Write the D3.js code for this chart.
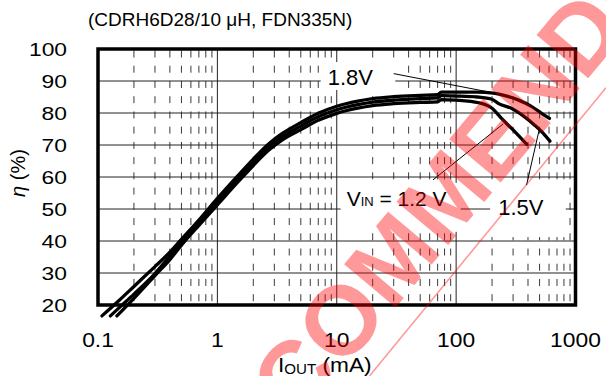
<!DOCTYPE html>
<html>
<head>
<meta charset="utf-8">
<script src="https://cdn.jsdelivr.net/npm/d3@7"></script>
<style>
  html, body { margin: 0; padding: 0; background: #fff; }
  svg { display: block; font-family: "Liberation Sans", Arial, Helvetica, sans-serif; }
</style>
</head>
<body>
<svg id="chart" width="606" height="376"></svg>
<script>
// Converter efficiency versus load current, one curve per input voltage.
const xTicks = [0.1, 1, 10, 100, 1000];
const xTickLabels = ["0.1", "1", "10", "100", "1000"];
const yTicks = [20, 30, 40, 50, 60, 70, 80, 90, 100];
const yTickLabels = ["20", "30", "40", "50", "60", "70", "80", "90", "100"];

// VIN = 1.8 V
const current18 = [0.108, 0.15, 0.2, 0.3, 0.4, 0.5, 0.7, 1, 1.5, 2, 2.7, 3.5, 5, 7, 10, 15, 20, 30, 50, 70, 75, 100, 150, 205, 275, 330, 430, 520, 605];
const eff18     = [16.6, 21.4, 25.8, 32.0, 36.5, 40.5, 46.5, 53.3, 60.6, 65.6, 70.4, 73.6, 77.0, 79.9, 82.1, 83.7, 84.5, 85.1, 85.5, 85.7, 86.5, 86.5, 86.5, 86.2, 85.1, 84.1, 82.0, 79.9, 78.3];

// VIN = 1.5 V
const current15 = [0.127, 0.15, 0.2, 0.3, 0.4, 0.5, 0.7, 1, 1.5, 2, 2.7, 3.5, 5, 7, 10, 15, 20, 30, 50, 70, 75, 100, 150, 200, 225, 290, 375, 455, 535, 610];
const eff15     = [16.6, 19.1, 23.4, 29.8, 35.3, 39.5, 45.7, 52.3, 59.6, 64.6, 69.4, 72.6, 75.9, 78.8, 81.0, 82.6, 83.4, 84.0, 84.5, 84.7, 85.4, 85.3, 85.0, 84.3, 83.0, 81.5, 78.8, 76.2, 73.7, 71.2];

// VIN = 1.2 V
const current12 = [0.144, 0.2, 0.3, 0.4, 0.5, 0.7, 1, 1.5, 2, 2.7, 3.5, 5, 7, 10, 15, 20, 30, 50, 70, 75, 100, 155, 200, 240, 300, 390];
const eff12     = [16.6, 22.1, 29.2, 34.2, 38.7, 44.9, 51.3, 58.6, 63.6, 68.4, 71.6, 74.8, 77.7, 79.9, 81.5, 82.3, 82.9, 83.3, 83.5, 84.2, 84.0, 83.2, 81.5, 78.3, 74.7, 70.2];

const series = [
  { name: "1.8V", current: current18, eff: eff18 },
  { name: "1.5V", current: current15, eff: eff15 },
  { name: "1.2V", current: current12, eff: eff12 }
];

const svg = d3.select("#chart");
const x = d3.scaleLog().domain([0.1, 1000]).range([98, 575.5]);
const y = d3.scaleLinear().domain([20, 100]).range([305, 49]);
const [x0, x1] = x.range();
const [yb, yt] = y.range();

// widen glyphs horizontally by a factor, keeping the anchor
function stretch(sel, f) {
  sel.each(function () {
    const w = this.getComputedTextLength();
    d3.select(this).attr("textLength", w * f).attr("lengthAdjust", "spacingAndGlyphs");
  });
}

// ---- grid ----
const grid = svg.append("g");
const band = y(90) - y(100);
const period = band * 0.476;
const dash = 7;
const minor = x.ticks().filter(v => Math.abs(Math.log10(v) - Math.round(Math.log10(v))) > 1e-6);
grid.selectAll("line.minor").data(minor).join("line")
  .attr("x1", d => x(d)).attr("x2", d => x(d))
  .attr("y1", yt + 1.5).attr("y2", yb)
  .attr("stroke", "#3a3a3a").attr("stroke-width", 1)
  .attr("stroke-dasharray", `${dash} ${period - dash}`);

grid.selectAll("line.vmaj").data(xTicks.slice(1, -1)).join("line")
  .attr("x1", d => x(d)).attr("x2", d => x(d))
  .attr("y1", yt).attr("y2", yb)
  .attr("stroke", "#222").attr("stroke-width", 1);

grid.selectAll("line.hmaj").data(yTicks.slice(1, -1)).join("line")
  .attr("x1", x0).attr("x2", x1)
  .attr("y1", d => y(d)).attr("y2", d => y(d))
  .attr("stroke", "#222").attr("stroke-width", 1);

// ---- annotation labels with white backing ----
const notes = svg.append("g");
function label(xv, yv, size, pad, build) {
  const g = notes.append("g");
  const rect = g.append("rect").attr("fill", "#fff");
  const t = g.append("text").attr("x", x(xv)).attr("y", y(yv))
    .attr("font-size", size).attr("fill", "#000");
  build(t);
  const b = t.node().getBBox();
  rect.attr("x", b.x - pad[3]).attr("y", b.y - pad[0])
    .attr("width", b.width + pad[1] + pad[3])
    .attr("height", b.height + pad[0] + pad[2]);
}
label(8.4, 88.75, 22, [3, 22, 0, 7], t => t.text("1.8V"));
label(12.1, 51.0, 21, [4, 14, 22, 6], t => {
  t.append("tspan").text("V");
  t.append("tspan").attr("font-size", 13).text("IN");
  t.append("tspan").text(" = 1.2 V");
});
label(225, 48.1, 22, [10, 22, 17, 8], t => t.text("1.5V"));

// leader lines from labels to curves
const leaders = [
  [[30, 92.3], [205, 86.3]],
  [[64, 59.1], [248, 76.6]],
  [[389, 57.5], [496, 74.7]]
];
notes.selectAll("line.leader").data(leaders).join("line")
  .attr("x1", d => x(d[0][0])).attr("y1", d => y(d[0][1]))
  .attr("x2", d => x(d[1][0])).attr("y2", d => y(d[1][1]))
  .attr("stroke", "#000").attr("stroke-width", 1);

// ---- curves ----
const line = d3.line()
  .x(d => x(d[0])).y(d => y(d[1]))
  .curve(d3.curveMonotoneX);
svg.append("g").selectAll("path").data(series).join("path")
  .attr("d", s => line(d3.zip(s.current, s.eff)))
  .attr("fill", "none").attr("stroke", "#000")
  .attr("stroke-width", 3.3)
  .attr("stroke-linejoin", "round").attr("stroke-linecap", "round");

// ---- frame ----
svg.append("rect")
  .attr("x", x0).attr("y", yt)
  .attr("width", x1 - x0).attr("height", yb - yt)
  .attr("fill", "none").attr("stroke", "#000").attr("stroke-width", 3.5);

// ---- axes text ----
svg.append("g").selectAll("text").data(yTicks).join("text")
  .attr("x", 67).attr("y", d => y(d)).attr("dy", "0.35em")
  .attr("text-anchor", "end").attr("font-size", 19)
  .text((d, i) => yTickLabels[i])
  .call(stretch, 1.2);

svg.append("g").selectAll("text").data(xTicks).join("text")
  .attr("x", d => x(d)).attr("y", 347)
  .attr("text-anchor", "middle").attr("font-size", 20)
  .text((d, i) => xTickLabels[i])
  .call(stretch, 1.14);

const xt = svg.append("text").attr("x", 278).attr("y", 372).attr("font-size", 21);
xt.append("tspan").text("I");
xt.append("tspan").attr("font-size", 14).attr("dy", 1.5).text("OUT");
xt.append("tspan").attr("dy", -1.5).text(" (mA)");
stretch(xt, 1.08);

const yt2 = svg.append("text")
  .attr("transform", "translate(25,173) rotate(-90)")
  .attr("text-anchor", "middle").attr("font-size", 20);
yt2.append("tspan").attr("font-style", "italic").text("η");
yt2.append("tspan").text(" (%)");

svg.append("text").attr("x", 88).attr("y", 26).attr("font-size", 19)
  .text("(CDRH6D28/10 μH, FDN335N)");

// ---- watermark ----
const wm = svg.append("g").attr("pointer-events", "none");
wm.append("text")
  .attr("transform", "translate(437,205) rotate(-50)")
  .attr("text-anchor", "middle").attr("dy", "0.35em")
  .attr("font-size", 98).attr("font-weight", "bold")
  .attr("fill", "#ff0000").attr("fill-opacity", 0.4)
  .text("RECOMMENDED");
wm.append("line")
  .attr("x1", 369.5).attr("y1", 376).attr("x2", 606).attr("y2", 87.7)
  .attr("stroke", "#ff0000").attr("stroke-opacity", 0.4).attr("stroke-width", 1.6);
</script>
</body>
</html>
